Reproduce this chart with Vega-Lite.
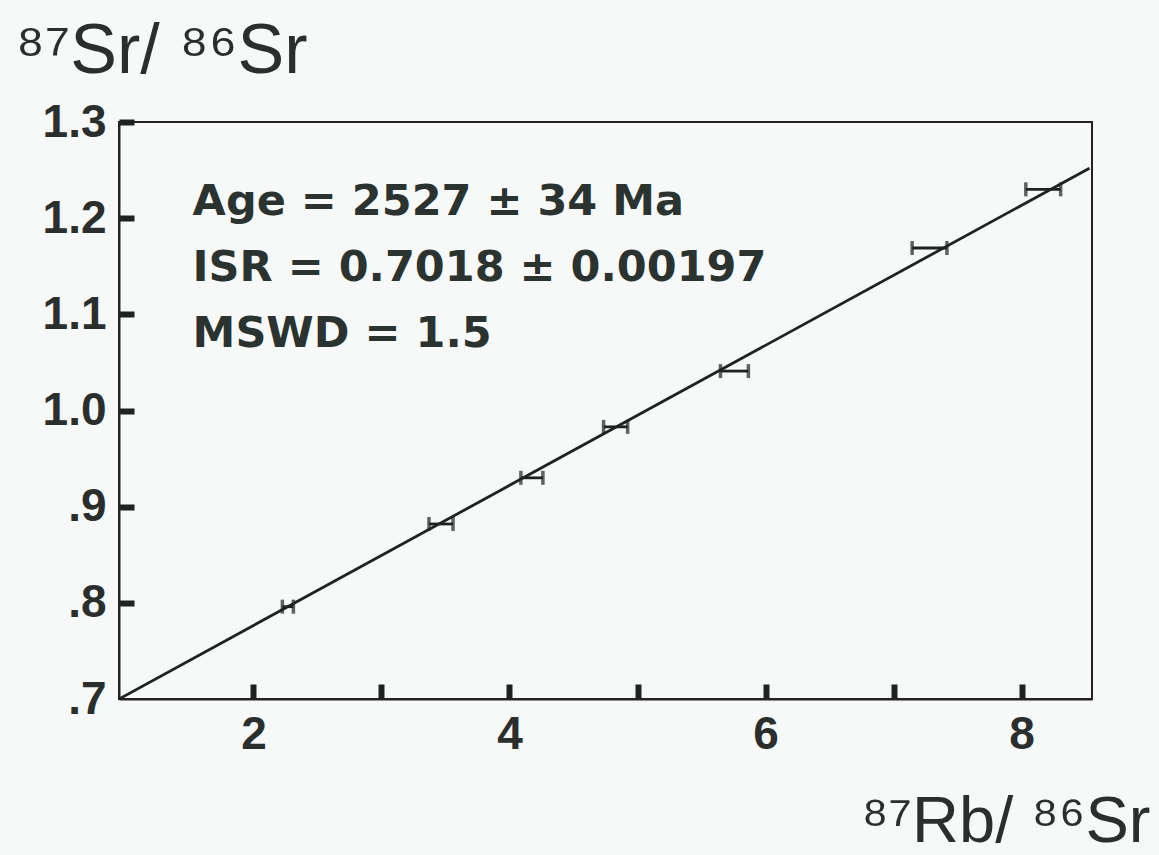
{
  "$schema": "https://vega.github.io/schema/vega-lite/v6.json",
  "width": 973,
  "height": 577,
  "autosize": {"type": "none"},
  "padding": {"left": 119, "top": 122, "right": 67, "bottom": 156},
  "background": "#f7f9f9",
  "config": {
    "view": {"stroke": "#222222", "strokeWidth": 2},
    "font": "Liberation Sans"
  },
  "datasets": {
    "points": [
      {"x": 2.269, "y": 0.796, "xlo": 2.226, "xhi": 2.312},
      {"x": 3.465, "y": 0.882, "xlo": 3.371, "xhi": 3.559},
      {"x": 4.175, "y": 0.930, "xlo": 4.089, "xhi": 4.261},
      {"x": 4.829, "y": 0.983, "xlo": 4.735, "xhi": 4.923},
      {"x": 5.757, "y": 1.041, "xlo": 5.648, "xhi": 5.866},
      {"x": 7.281, "y": 1.169, "xlo": 7.145, "xhi": 7.417},
      {"x": 8.169, "y": 1.230, "xlo": 8.033, "xhi": 8.305}
    ],
    "fit": [
      {"x": 0.95, "y": 0.700},
      {"x": 8.53, "y": 1.252}
    ]
  },
  "layer": [
    {
      "data": {"name": "fit"},
      "mark": {"type": "line", "color": "#1f2221", "strokeWidth": 2.8, "clip": true},
      "encoding": {
        "x": {
          "field": "x", "type": "quantitative",
          "scale": {"domain": [0.95, 8.55], "nice": false, "zero": false},
          "axis": {
            "values": [2, 3, 4, 5, 6, 7, 8],
            "format": "d",
            "labelExpr": "datum.value % 2 == 0 ? datum.label : ''",
            "grid": false,
            "tickSize": -15,
            "tickWidth": 6,
            "tickColor": "#1f2221",
            "domainColor": "#222222",
            "domainWidth": 2,
            "labelFont": "Liberation Sans",
            "labelFontSize": 46,
            "labelFontWeight": "bold",
            "labelColor": "#2a2f2e",
            "labelPadding": 28,
            "labelFlush": false,
            "labelOverlap": false,
            "title": "⁸⁷Rb/ ⁸⁶Sr",
            "titleFont": "Liberation Sans",
            "titleFontSize": 65,
            "titleFontWeight": "normal",
            "titleColor": "#2a2f2e",
            "titleAlign": "right",
            "titleBaseline": "alphabetic",
            "titleX": 1031,
            "titleY": 142
          }
        },
        "y": {
          "field": "y", "type": "quantitative",
          "scale": {"domain": [0.7, 1.3], "nice": false, "zero": false},
          "axis": {
            "values": [0.7, 0.8, 0.9, 1.0, 1.1, 1.2, 1.3],
            "labelExpr": "datum.value < 1 ? '.' + round(datum.value * 10) : format(datum.value, '.1f')",
            "grid": false,
            "tickSize": -15,
            "tickWidth": 6,
            "tickColor": "#1f2221",
            "tickOpacity": {"condition": {"test": "datum.value < 0.75", "value": 0}, "value": 1},
            "domainColor": "#222222",
            "domainWidth": 2,
            "labelFont": "Liberation Sans",
            "labelFontSize": 46,
            "labelFontWeight": "bold",
            "labelColor": "#2a2f2e",
            "labelPadding": 28,
            "labelFlush": false,
            "labelOverlap": false,
            "title": "⁸⁷Sr/ ⁸⁶Sr",
            "titleFont": "Liberation Sans",
            "titleFontSize": 70,
            "titleFontWeight": "normal",
            "titleColor": "#2a2f2e",
            "titleAngle": 0,
            "titleAlign": "left",
            "titleBaseline": "alphabetic",
            "titleX": -104,
            "titleY": -50
          }
        }
      }
    },
    {
      "data": {"name": "points"},
      "mark": {"type": "rule", "color": "#1f2221", "strokeWidth": 2.8},
      "encoding": {
        "x": {"field": "xlo", "type": "quantitative", "title": "⁸⁷Rb/ ⁸⁶Sr"},
        "x2": {"field": "xhi"},
        "y": {"field": "y", "type": "quantitative", "title": "⁸⁷Sr/ ⁸⁶Sr"}
      }
    },
    {
      "data": {"name": "points"},
      "mark": {"type": "tick", "orient": "vertical", "color": "#1f2221", "size": 14, "thickness": 3.5},
      "encoding": {
        "x": {"field": "xlo", "type": "quantitative", "title": "⁸⁷Rb/ ⁸⁶Sr"},
        "y": {"field": "y", "type": "quantitative", "title": "⁸⁷Sr/ ⁸⁶Sr"}
      }
    },
    {
      "data": {"name": "points"},
      "mark": {"type": "tick", "orient": "vertical", "color": "#1f2221", "size": 14, "thickness": 3.5},
      "encoding": {
        "x": {"field": "xhi", "type": "quantitative", "title": "⁸⁷Rb/ ⁸⁶Sr"},
        "y": {"field": "y", "type": "quantitative", "title": "⁸⁷Sr/ ⁸⁶Sr"}
      }
    },
    {
      "data": {"values": [{}]},
      "mark": {
        "type": "text",
        "align": "left",
        "baseline": "alphabetic",
        "font": "DejaVu Sans",
        "fontSize": 43,
        "fontWeight": "bold",
        "color": "#2b3331",
        "lineHeight": 66,
        "text": ["Age = 2527 ± 34 Ma", "ISR = 0.7018 ± 0.00197", "MSWD = 1.5"]
      },
      "encoding": {
        "x": {"datum": 1.525, "type": "quantitative"},
        "y": {"datum": 1.2033, "type": "quantitative"}
      }
    }
  ]
}
